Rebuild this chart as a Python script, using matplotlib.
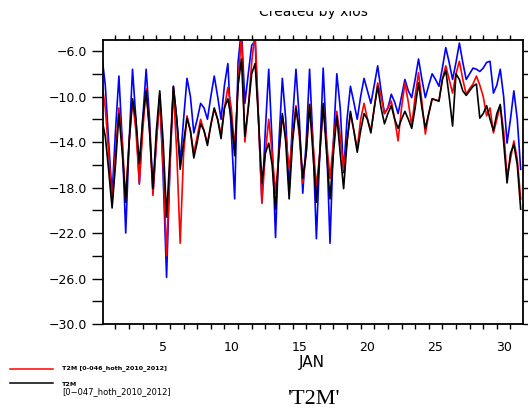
import numpy as np
import matplotlib
matplotlib.use("Agg")
import matplotlib.pyplot as plt
from matplotlib.lines import Line2D
from matplotlib.patches import Rectangle

# 6-hourly T2M, Jan 1 00Z .. Jan 31 18Z (4 values per day)
blue = [
    -6.4, -9.0, -14.0, -18.7,
    -13.0, -8.2, -14.0, -22.0,
    -14.0, -7.6, -12.0, -17.7,
    -12.0, -7.6, -12.0, -18.5,
    -14.0, -9.8, -17.0, -25.9,
    -16.0, -9.1, -12.0, -15.8,
    -12.0, -8.4, -10.0, -13.2,
    -12.0, -10.6, -11.0, -12.0,
    -10.0, -8.2, -10.0, -12.0,
    -9.0, -7.1, -13.0, -19.0,
    -7.0, -4.0, -10.6, -8.0,
    -5.5, -5.1, -12.0, -19.3,
    -13.0, -7.6, -14.0, -22.4,
    -14.0, -8.4, -12.0, -18.3,
    -12.0, -7.6, -12.0, -18.5,
    -14.0, -7.6, -14.0, -22.5,
    -15.0, -7.5, -14.0, -22.9,
    -14.0, -8.0, -11.0, -16.7,
    -12.0, -9.1, -10.5, -12.0,
    -10.0, -8.4, -9.5, -10.6,
    -9.0, -7.3, -9.5, -11.5,
    -11.0, -9.8, -10.5, -11.5,
    -10.0, -8.5, -9.5, -10.1,
    -8.5, -6.7, -8.5, -10.1,
    -9.0, -8.0, -8.5, -9.1,
    -7.5, -5.7, -7.0, -8.5,
    -7.0, -5.3, -7.0, -8.5,
    -8.0, -7.5, -7.6, -7.8,
    -7.5, -7.0, -6.9, -9.7,
    -9.0, -7.6, -10.0, -14.1,
    -12.0, -9.5, -12.0, -16.4,
]
red = [
    -8.8, -11.0, -15.0, -19.3,
    -15.0, -11.0, -14.0, -19.0,
    -14.0, -10.4, -13.0, -17.6,
    -13.0, -9.3, -13.0, -18.7,
    -14.0, -10.2, -16.0, -24.0,
    -16.0, -9.3, -15.0, -22.9,
    -15.0, -11.7, -13.0, -15.0,
    -13.5, -12.0, -13.0, -14.1,
    -12.5, -11.1, -12.0, -13.3,
    -11.0, -9.2, -11.0, -14.6,
    -9.0, -4.5, -14.0, -11.0,
    -7.0, -4.3, -12.0, -19.4,
    -15.0, -12.0, -15.0, -18.5,
    -15.0, -11.7, -13.5, -16.4,
    -13.5, -10.8, -13.5, -17.6,
    -15.0, -10.7, -14.0, -18.0,
    -15.0, -11.0, -14.0, -17.2,
    -14.0, -11.3, -13.5, -16.4,
    -14.0, -11.5, -13.0, -14.6,
    -12.0, -10.6, -12.0, -13.0,
    -11.0, -8.8, -10.0, -11.5,
    -11.0, -10.4, -12.0, -13.9,
    -11.0, -8.8, -10.5, -12.6,
    -10.0, -7.9, -10.5, -13.3,
    -11.5, -10.2, -10.3, -10.4,
    -8.5, -7.3, -8.5, -9.7,
    -8.0, -6.9, -8.5, -9.8,
    -9.3, -8.9, -8.2, -9.0,
    -10.0, -11.7, -11.0, -13.2,
    -12.0, -10.8, -13.0, -17.0,
    -15.5, -13.9, -15.5, -19.0,
]
black = [
    -12.0, -13.5, -16.5, -19.8,
    -16.0, -11.5, -15.0, -19.3,
    -14.0, -10.2, -12.0, -15.9,
    -12.0, -9.5, -13.0, -18.1,
    -13.0, -9.5, -14.0, -20.6,
    -15.0, -9.1, -12.0, -16.4,
    -14.0, -11.9, -13.0, -15.4,
    -14.0, -12.4, -13.0, -14.3,
    -12.5, -11.0, -12.0, -13.7,
    -11.0, -10.2, -12.0, -15.2,
    -9.0, -6.7, -13.5, -11.0,
    -8.0, -7.1, -12.0, -17.6,
    -15.0, -14.1, -16.0, -19.9,
    -15.0, -11.5, -14.0, -19.0,
    -14.0, -11.0, -13.0, -17.2,
    -15.0, -10.7, -15.0, -19.3,
    -15.0, -10.6, -15.0, -19.0,
    -15.0, -11.7, -15.0, -18.1,
    -14.0, -11.3, -13.0, -14.9,
    -13.0, -11.5, -12.0, -13.2,
    -11.0, -9.1, -11.0, -12.4,
    -11.5, -10.8, -12.0, -12.8,
    -12.0, -11.3, -12.0, -12.8,
    -11.0, -8.8, -11.0, -12.8,
    -11.5, -10.2, -10.3, -10.4,
    -8.5, -7.7, -10.0, -12.6,
    -8.0, -8.5, -9.5, -9.9,
    -9.5, -9.1, -8.9, -11.9,
    -11.5, -10.8, -12.0, -13.0,
    -11.5, -10.7, -14.0, -17.6,
    -15.0, -14.2, -16.0, -19.9,
]

day_labels = ["5", "10", "15", "20", "25", "30"]
day_label_pos = [4.5, 9.5, 14.5, 19.5, 24.5, 29.5]
yticks = [-6, -10, -14, -18, -22, -26, -30]
ytick_labels = ["\u22126.0", "\u221210.0", "\u221214.0", "\u221218.0",
                "\u221222.0", "\u221226.0", "\u221230.0"]
legend_red = "T2M [0-046_hoth_2010_2012]"
legend_black_1 = "T2M"
legend_black_2 = "[0\u2212047_hoth_2010_2012]"

t = np.arange(len(black)) / 4.0

fig = plt.figure(figsize=(5.28, 4.12), dpi=100)
ax = fig.add_axes([0.1945, 0.2136, 0.7955, 0.6893])

ax.plot(t, blue, color="#0000ff", lw=1.2)
ax.plot(t, red, color="#ff0000", lw=1.2)
ax.plot(t, black, color="black", lw=1.2)

ax.set_xlim(0.06, 30.9)
ax.set_ylim(-30, -5.03)

# day ticks on top and bottom, labels centred on the day
ax.set_xticks(np.arange(1, 31))
ax.set_xticklabels([])
ax.set_xticks(day_label_pos, labels=day_labels, minor=True)
ax.tick_params(axis="x", which="major", direction="out", length=3.6,
               width=1.0, top=True, bottom=True)
ax.tick_params(axis="x", which="minor", length=0, pad=12, labelsize=9)

ax.set_yticks(yticks, labels=ytick_labels)
ax.set_yticks(np.arange(-28, -5, 4), minor=True)
ax.tick_params(axis="y", which="both", direction="out", length=8,
               width=1.0, left=True, right=True, labelsize=9, pad=3)

for s in ax.spines.values():
    s.set_linewidth(1.3)

W, H = 528.0, 412.0

# header, its top cut off like in the original
fig.text(0.593, 1 - 12 / H, "Created by xios", ha="center",
         va="center", fontsize=10)
fig.add_artist(Rectangle((0, 1 - 10.5 / H), 1, 10.5 / H,
                         transform=fig.transFigure, facecolor="white",
                         edgecolor="none", zorder=10))

fig.text(0.591, 1 - 363 / H, "JAN", ha="center", va="center", fontsize=11)
fig.text(0.593, 1 - 400 / H, "'T2M'", ha="center", va="center",
         fontsize=16, family="Liberation Serif")

# legend at lower left
fig.add_artist(Line2D([10 / W, 53 / W], [1 - 368.5 / H, 1 - 368.5 / H],
                      color="#ff0000", lw=1.1))
fig.add_artist(Line2D([10 / W, 53 / W], [1 - 383 / H, 1 - 383 / H],
                      color="black", lw=1.1))
fig.text(62 / W, 1 - 368 / H, legend_red, ha="left", va="center",
         fontsize=4.6, fontweight="bold")
fig.text(62 / W, 1 - 385 / H, legend_black_1, ha="left", va="center",
         fontsize=4.6, fontweight="bold")
fig.text(62 / W, 1 - 392 / H, legend_black_2, ha="left", va="center",
         fontsize=6)

fig.savefig("out.png", dpi=100)
